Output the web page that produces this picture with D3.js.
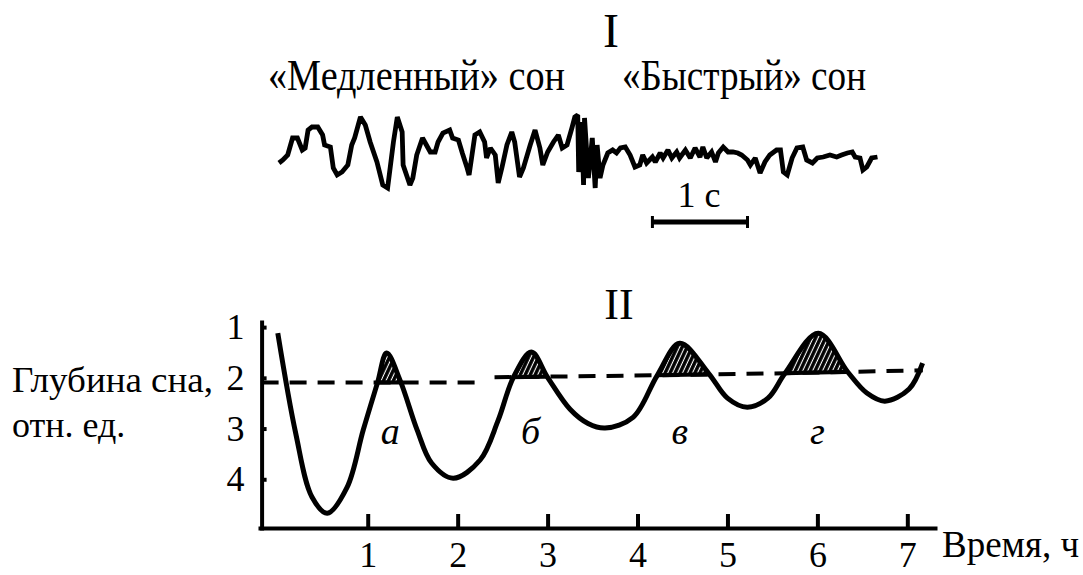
<!DOCTYPE html>
<html>
<head>
<meta charset="utf-8">
<script src="https://cdn.jsdelivr.net/npm/d3@7"></script>
<style>
  body { margin: 0; background: #fff; }
</style>
</head>
<body>
<script>
// --- Panel I: EEG trace, time in seconds, amplitude in arbitrary units
const eegSamples = [
  [0.01, -3], [0.05, 0], [0.10, 5], [0.15, 22], [0.20, 22], [0.25, 10], [0.28, 12],
  [0.31, 30], [0.35, 33], [0.41, 33], [0.46, 25], [0.48, 15], [0.54, 13], [0.57, -8],
  [0.61, -15], [0.66, -12], [0.72, -5], [0.76, 15], [0.79, 22], [0.85, 43], [0.90, 35],
  [0.95, 18], [1.02, -2], [1.08, -25], [1.13, -28], [1.19, 18], [1.23, 43], [1.28, 28],
  [1.29, -5], [1.36, -25], [1.39, -18], [1.43, 5], [1.49, 22], [1.57, 8], [1.62, 8],
  [1.65, 18], [1.70, 27], [1.77, 30], [1.80, 22], [1.86, 20], [1.90, 7], [1.95, -8],
  [1.97, -15], [2.00, 5], [2.03, 25], [2.08, 28], [2.13, 18], [2.15, 2], [2.19, 12],
  [2.24, 5], [2.27, -23], [2.31, -7], [2.36, 15], [2.41, 28], [2.44, 18], [2.49, -17],
  [2.53, -8], [2.60, 15], [2.65, 30], [2.70, 12], [2.73, -5], [2.78, 8], [2.84, 18],
  [2.89, 25], [2.93, 12], [2.98, 15], [3.03, 32], [3.06, 43], [3.09, 45], [3.10, -12],
  [3.13, 38], [3.15, -25], [3.16, 42], [3.20, -18], [3.24, 22], [3.27, -28], [3.29, 15],
  [3.32, -18], [3.35, -5], [3.40, 7], [3.45, 10], [3.49, 7], [3.53, 12], [3.58, 13],
  [3.63, 5], [3.68, -7], [3.73, -5], [3.76, 5], [3.80, -3], [3.86, 3], [3.89, -2],
  [3.94, 7], [3.97, 2], [4.02, 10], [4.06, 2], [4.11, 8], [4.14, 2], [4.20, 10],
  [4.25, 2], [4.30, 12], [4.35, 3], [4.38, 13], [4.42, 2], [4.47, 8], [4.51, -2],
  [4.54, 7], [4.59, 13], [4.64, 8], [4.69, 8], [4.74, 7], [4.78, 5], [4.84, 0],
  [4.87, -5], [4.92, 2], [4.97, -13], [5.02, -2], [5.07, 5], [5.14, 10], [5.18, 10],
  [5.21, -12], [5.25, -15], [5.30, 2], [5.35, 12], [5.41, 13], [5.45, 0], [5.51, -3],
  [5.56, 2], [5.62, 3], [5.69, 5], [5.76, 3], [5.81, 5], [5.87, 7], [5.92, 8],
  [5.95, 3], [6.00, 2], [6.03, -10], [6.07, -7], [6.12, 2], [6.18, 3]
];
const scaleBarSec = [3.86, 4.84];
const eegTitle = "I";
const stageLabels = ["«Медленный» сон", "«Быстрый» сон"];
const scaleBarLabel = "1 с";

// --- Panel II: sleep depth over the night
const depthHours = [0.00, 0.20, 0.38, 0.55, 0.77, 0.95, 1.11, 1.21, 1.36, 1.55, 1.71, 1.95,
  2.25, 2.45, 2.62, 2.82, 3.00, 3.25, 3.45, 3.64, 3.95, 4.22, 4.47, 4.79, 5.00, 5.22, 5.45,
  5.64, 6.01, 6.34, 6.55, 6.75, 7.02, 7.17];
const depthValues = [1.12, 3.10, 4.35, 4.67, 4.16, 3.03, 2.09, 1.51, 2.05, 3.03, 3.68, 3.98,
  3.62, 2.84, 1.99, 1.49, 1.99, 2.62, 2.90, 2.99, 2.78, 1.95, 1.32, 1.91, 2.40, 2.58, 2.40,
  1.91, 1.12, 1.89, 2.30, 2.46, 2.22, 1.71];
const thresholdA = [[-0.18, 2.09], [2.30, 2.09]];
const thresholdB = [[2.41, 1.99], [4.20, 1.95], [5.64, 1.91], [7.17, 1.85]];
const remStartHour = 1.0;
const hourTicks = [1, 2, 3, 4, 5, 6, 7];
const depthTicks = [1, 2, 3, 4];
const cycleLabels = ["а", "б", "в", "г"];
const cycleLabelHours = [1.25, 2.81, 4.47, 6.0];
const panelTitle = "II";
const yLabel = ["Глубина сна,", "отн. ед."];
const xLabel = "Время, ч";

const FONT = '"Liberation Serif", "Times New Roman", serif';
const W = 1083, H = 575;
const svg = d3.create("svg").attr("width", W).attr("height", H)
  .style("display", "block").style("background", "#fff")
  .style("font-family", FONT);

// hatch for REM episodes
const defs = svg.append("defs");
defs.append("pattern")
  .attr("id", "hatch").attr("patternUnits", "userSpaceOnUse")
  .attr("width", 4.5).attr("height", 4.5).attr("patternTransform", "rotate(25)")
  .call(p => {
    p.append("rect").attr("width", 4.5).attr("height", 4.5).attr("fill", "#000");
    p.append("line").attr("x1", 2.2).attr("x2", 2.2).attr("y1", 0).attr("y2", 4.5)
      .attr("stroke", "#fff").attr("stroke-width", 1.1);
  });

// ---------- panel I
const ex = d3.scaleLinear().domain([0, 1]).range([278, 375]);
const ey = d3.scaleLinear().domain([-50, 50]).range([210, 110]);

svg.append("text").attr("x", 611).attr("y", 47).attr("text-anchor", "middle")
  .attr("font-size", 48).text(eegTitle);
svg.append("text").attr("x", 268).attr("y", 90).attr("font-size", 44)
  .attr("textLength", 297).attr("lengthAdjust", "spacingAndGlyphs").text(stageLabels[0]);
svg.append("text").attr("x", 622).attr("y", 90).attr("font-size", 44)
  .attr("textLength", 244).attr("lengthAdjust", "spacingAndGlyphs").text(stageLabels[1]);

svg.append("path").datum(eegSamples)
  .attr("fill", "none").attr("stroke", "#000").attr("stroke-width", 4.8)
  .attr("stroke-linejoin", "miter").attr("stroke-miterlimit", 2)
  .attr("d", d3.line().x(d => ex(d[0])).y(d => ey(d[1])));

const barY = 222;
svg.append("line").attr("x1", ex(scaleBarSec[0])).attr("x2", ex(scaleBarSec[1]))
  .attr("y1", barY).attr("y2", barY).attr("stroke", "#000").attr("stroke-width", 5);
scaleBarSec.forEach(s => svg.append("line").attr("x1", ex(s)).attr("x2", ex(s))
  .attr("y1", barY - 6).attr("y2", barY + 6).attr("stroke", "#000").attr("stroke-width", 3));
svg.append("text").attr("x", (ex(scaleBarSec[0]) + ex(scaleBarSec[1])) / 2 - 1).attr("y", 207)
  .attr("text-anchor", "middle").attr("font-size", 36).text(scaleBarLabel);

// ---------- panel II
const x = d3.scaleLinear().domain([-0.22, 7.33]).range([258, 937]);
const y = d3.scaleLinear().domain([0.86, 5.0]).range([320, 530]);
const curve = depthHours.map((t, i) => [t, depthValues[i]]);
const remCurve = curve.filter(d => d[0] >= remStartHour);

svg.append("text").attr("x", 619).attr("y", 319).attr("text-anchor", "middle")
  .attr("font-size", 44).text(panelTitle);

const gx = svg.append("g").attr("transform", `translate(0,${y(5.0) - 2})`)
  .call(d3.axisBottom(x).tickValues(hourTicks).tickFormat(d3.format("d"))
    .tickSizeInner(-14).tickSizeOuter(0).tickPadding(13));
const gy = svg.append("g").attr("transform", `translate(${x(-0.18)},0)`)
  .call(d3.axisLeft(y).tickValues(depthTicks).tickFormat(d3.format("d"))
    .tickSizeInner(-5).tickSizeOuter(0).tickPadding(17));
[gx, gy].forEach(g => {
  g.attr("font-family", null);
  g.select(".domain").attr("stroke", "#000").attr("stroke-width", 4);
  g.selectAll(".tick line").attr("stroke", "#000").attr("stroke-width", 4);
  g.selectAll(".tick text").attr("font-size", 36);
});

const lineGen = d3.line().x(d => x(d[0])).y(d => y(d[1]));
const curveLine = d3.line().curve(d3.curveCatmullRom).x(d => x(d[0])).y(d => y(d[1]));
const belowCurve = d3.area().curve(d3.curveCatmullRom)
  .x(d => x(d[0])).y0(d => y(d[1])).y1(y(5.0));
const thresholdAll = [[-0.22, 2.09], ...thresholdA.slice(1), ...thresholdB, [7.33, 1.85]];
const aboveThreshold = d3.area().x(d => x(d[0])).y0(y(0.5)).y1(d => y(d[1]));

defs.append("clipPath").attr("id", "aboveT").append("path").attr("d", aboveThreshold(thresholdAll));
defs.append("clipPath").attr("id", "belowC").append("path").attr("d", belowCurve(remCurve));

// hatched REM episodes
svg.append("path").attr("d", belowCurve(remCurve)).attr("fill", "url(#hatch)")
  .attr("clip-path", "url(#aboveT)");

// dashed threshold
[thresholdA, thresholdB].forEach(seg => svg.append("path").datum(seg)
  .attr("fill", "none").attr("stroke", "#000").attr("stroke-width", 4)
  .attr("stroke-dasharray", "17 11").attr("d", lineGen));
// solid base of each episode
svg.append("path").datum(thresholdAll)
  .attr("fill", "none").attr("stroke", "#000").attr("stroke-width", 4)
  .attr("clip-path", "url(#belowC)").attr("d", lineGen);

svg.append("path").datum(curve)
  .attr("fill", "none").attr("stroke", "#000").attr("stroke-width", 5)
  .attr("d", curveLine);

svg.append("g").selectAll("text").data(cycleLabels).join("text")
  .attr("x", (d, i) => x(cycleLabelHours[i])).attr("y", y(3.1) + 10)
  .attr("text-anchor", "middle").attr("font-size", 38).attr("font-style", "italic")
  .text(d => d);

svg.append("text").attr("x", 12).attr("y", 392).attr("font-size", 36)
  .attr("textLength", 201).attr("lengthAdjust", "spacingAndGlyphs").text(yLabel[0]);
svg.append("text").attr("x", 12).attr("y", 437).attr("font-size", 36).text(yLabel[1]);
svg.append("text").attr("x", 942).attr("y", 557).attr("font-size", 37).text(xLabel);

svg.selectAll("text").style("font-family", FONT);

document.body.append(svg.node());
</script>
</body>
</html>
